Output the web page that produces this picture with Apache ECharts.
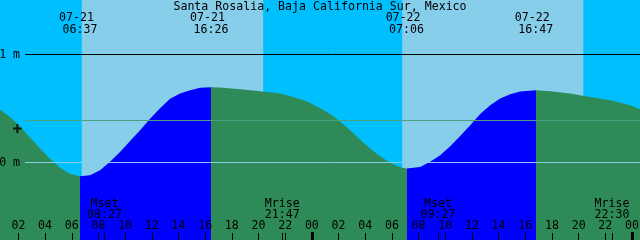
<!DOCTYPE html>
<html><head><meta charset="utf-8">
<script src="https://cdn.jsdelivr.net/npm/echarts@6/dist/echarts.min.js"></script>
<style>html,body{margin:0;padding:0;background:#00bfff}#c{width:640px;height:240px}</style>
</head><body><div id="c"></div>
<script>
// ---- data (time = hours from 07-21 00:00, height in metres) ----
const stationName = 'Santa Rosalia, Baja California Sur, Mexico';
const tideTimes = [0.62,1.37,2.12,2.87,3.62,4.37,5.12,5.87,6.617,7.37,8.12,8.87,9.62,10.37,11.12,11.87,12.62,13.37,14.12,14.87,15.62,16.433,17.12,18.62,20.12,21.62,22.62,23.62,24.62,25.37,26.12,26.87,27.62,28.37,29.12,29.87,30.62,31.1,32.12,32.87,33.62,34.37,35.12,35.87,36.62,37.37,38.12,38.87,39.62,40.783,41.87,43.37,44.87,46.37,47.87,48.62];
const tideHeights = [0.491,0.422,0.333,0.232,0.130,0.035,-0.048,-0.104,-0.127,-0.118,-0.071,0.006,0.098,0.200,0.299,0.405,0.502,0.590,0.639,0.669,0.691,0.697,0.694,0.679,0.660,0.639,0.607,0.566,0.502,0.450,0.379,0.299,0.210,0.130,0.058,-0.002,-0.045,-0.056,-0.041,0.006,0.068,0.151,0.246,0.345,0.450,0.531,0.593,0.632,0.657,0.669,0.660,0.639,0.607,0.577,0.531,0.491];
const lowTideTimes = [6.617, 31.1];
const highTideTimes = [16.433, 40.783];
const tideEventTimes = [6.617, 16.433, 31.1, 40.783];
const tideEventDates = ['07-21', '07-21', '07-22', '07-22'];
const tideEventClock = ['06:37', '16:26', '07:06', '16:47'];
const sunriseTimes = [6.75, 30.77];
const sunsetTimes = [20.35, 44.35];
const moonEventTimes = [8.45, 21.783, 33.45, 46.5];
const moonEventNames = ['Mset', 'Mrise', 'Mset', 'Mrise'];
const moonEventClock = ['08:27', '21:47', '09:27', '22:30'];
const hourTicks = [2,4,6,8,10,12,14,16,18,20,22,24,26,28,30,32,34,36,38,40,42,44,46,48];
const hourLabels = ['02','04','06','08','10','12','14','16','18','20','22','00','02','04','06','08','10','12','14','16','18','20','22','00'];
const midnightTicks = [24, 48];
const levelValues = [1, 0];
const levelLabels = ['1 m', '0 m'];
const meanLevel = 0.3889;
const markerPoint = [1.92, 0.315];

// ---- layout / style ----
const tStart = 0.62, tEnd = 48.6;
const yMin = -0.717593, yMax = 1.50463;
const levelLineStart = 2.5;
const FONT = 'DejaVu Sans Mono';
const FS = 11.6;
const C_NIGHT = '#00bfff', C_DAY = '#87ceeb', C_FLOOD = '#0000ff', C_EBB = '#2e8b57';

function nearestIdx(arr, v) {
  let b = 0;
  for (let i = 1; i < arr.length; i++) if (Math.abs(arr[i] - v) < Math.abs(arr[b] - v)) b = i;
  return b;
}

const pieces = [{ lt: lowTideTimes[0], color: C_EBB }];
for (let i = 0; i < lowTideTimes.length; i++) {
  pieces.push({ gte: lowTideTimes[i], lt: highTideTimes[i], color: C_FLOOD });
  if (i + 1 < lowTideTimes.length) pieces.push({ gte: highTideTimes[i], lt: lowTideTimes[i + 1], color: C_EBB });
}
pieces.push({ gte: highTideTimes[highTideTimes.length - 1], color: C_EBB });

const baseAxis = {
  type: 'value', min: tStart, max: tEnd, gridIndex: 0, z: 20,
  axisLine: { show: false, onZero: false }, splitLine: { show: false },
  axisTick: { show: false }, axisLabel: { show: false }
};
const txt = { color: '#000', fontFamily: FONT, fontSize: FS };

const chart = echarts.init(document.getElementById('c'), null, { renderer: 'canvas' });
chart.setOption({
  animation: false,
  backgroundColor: C_NIGHT,
  title: {
    text: stationName, left: 'center', top: 0, padding: [1, 0, 0, 0], z: 20,
    textStyle: Object.assign({ fontWeight: 'normal' }, txt)
  },
  grid: { left: 0, right: 0, top: 0, bottom: 0, containLabel: false, outerBoundsMode: 'none' },
  xAxis: [
    Object.assign({}, baseAxis, {
      position: 'bottom',
      axisTick: { show: true, inside: true, length: 7, customValues: hourTicks.concat(moonEventTimes), lineStyle: { color: '#000', width: 1 } },
      axisLabel: Object.assign({ show: true, inside: true, margin: 8, customValues: hourTicks, hideOverlap: false,
        formatter: v => hourLabels[nearestIdx(hourTicks, v)] }, txt)
    }),
    Object.assign({}, baseAxis, {
      position: 'bottom',
      axisTick: { show: true, inside: true, length: 8, customValues: midnightTicks, lineStyle: { color: '#000', width: 3 } }
    }),
    Object.assign({}, baseAxis, {
      position: 'bottom',
      axisLabel: Object.assign({ show: true, inside: true, margin: 20, lineHeight: 11, customValues: moonEventTimes, hideOverlap: false,
        formatter: v => { const i = nearestIdx(moonEventTimes, v); return moonEventNames[i] + '\n' + moonEventClock[i]; } }, txt)
    }),
    Object.assign({}, baseAxis, {
      position: 'top',
      axisLabel: Object.assign({ show: true, inside: true, margin: 12, lineHeight: 12, customValues: tideEventTimes, hideOverlap: false,
        formatter: v => { const i = nearestIdx(tideEventTimes, v); return tideEventDates[i] + ' \n' + tideEventClock[i]; } }, txt)
    })
  ],
  yAxis: { type: 'value', min: yMin, max: yMax, show: false },
  visualMap: {
    show: false, type: 'piecewise', dimension: 0, seriesIndex: 0, pieces: pieces
  },
  series: [
    {
      type: 'line', xAxisIndex: 0, z: 2,
      data: tideTimes.map((t, i) => [t, tideHeights[i]]),
      showSymbol: false, symbol: 'none', smooth: false,
      lineStyle: { width: 0 },
      areaStyle: { opacity: 1, origin: 'start' },
      silent: true
    },
    {
      type: 'line', xAxisIndex: 0, data: [], silent: true,
      markArea: {
        silent: true,
        itemStyle: { color: C_DAY },
        data: sunriseTimes.map((s, i) => [{ xAxis: s }, { xAxis: sunsetTimes[i] }])
      },
      markLine: {
        silent: true, symbol: 'none', animation: false,
        data: levelValues.map((v, i) => [
          { xAxis: levelLineStart, yAxis: v, label: Object.assign({ show: true, position: 'start', distance: 5, formatter: levelLabels[i] }, txt),
            lineStyle: { color: v === 0 ? C_DAY : '#000', width: 1, type: 'solid' } },
          { xAxis: tEnd, yAxis: v }
        ]).concat([[
          { xAxis: levelLineStart, yAxis: meanLevel, label: { show: false }, lineStyle: { color: '#4c9f80', width: 1, type: 'solid' } },
          { xAxis: tEnd, yAxis: meanLevel }
        ]])
      }
    },
    {
      type: 'scatter', xAxisIndex: 0, z: 10, silent: true,
      data: [markerPoint],
      symbol: 'path://M3.5,0h2v9h-2zM0,3.5h9v2h-9z', symbolSize: 9,
      itemStyle: { color: '#000' }
    }
  ]
});
</script>
</body></html>
